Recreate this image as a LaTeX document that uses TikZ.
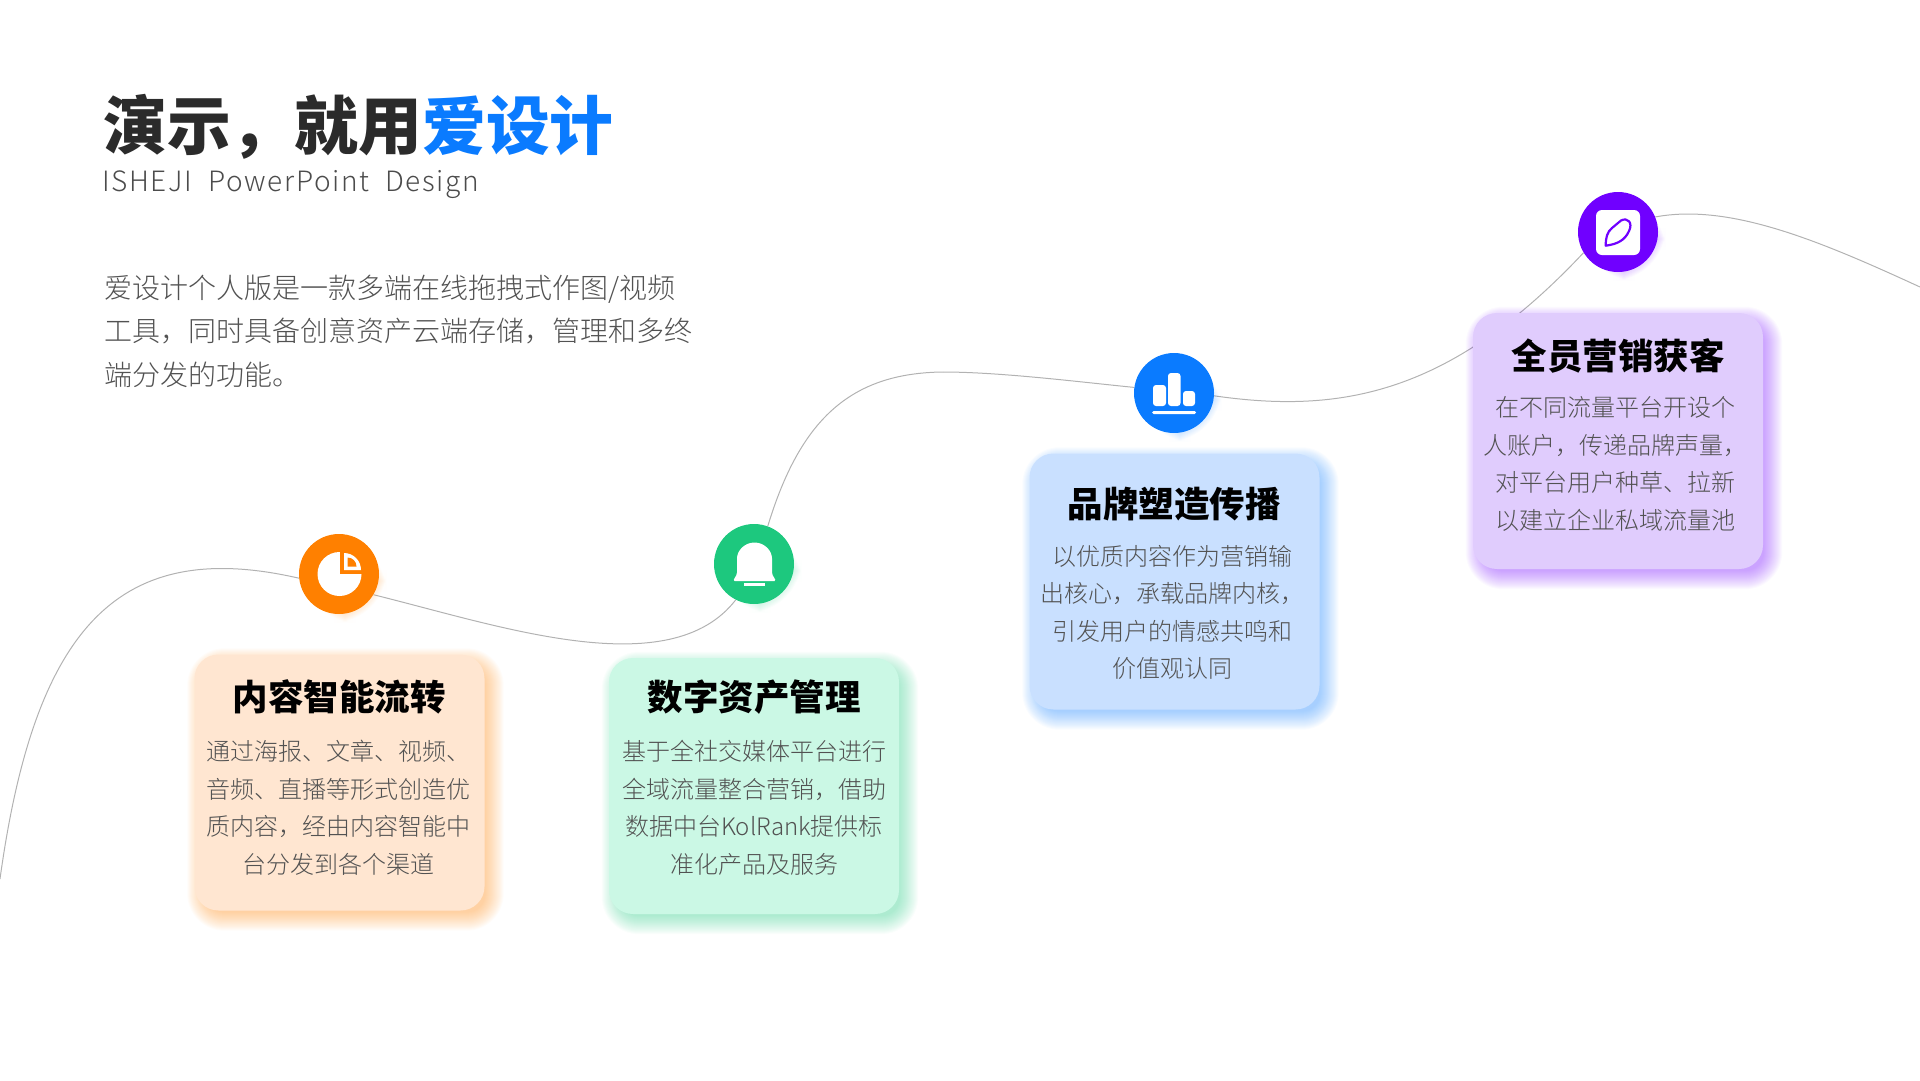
\documentclass[tikz,border=0pt]{standalone}
\usepackage{fontspec}
\usetikzlibrary{calc,backgrounds}
\newfontfamily\heavyfont{Noto Sans CJK SC Black}
\newfontfamily\lightfont{Noto Sans CJK SC Light}
\newfontfamily\subfont[LetterSpace=6,WordSpace=2]{Noto Sans CJK SC Light}
\definecolor{orangedark}{HTML}{FF8000}
\definecolor{orangecard}{HTML}{FFE6D1}
\definecolor{greendark}{HTML}{1DC87E}
\definecolor{greencard}{HTML}{CBF8E5}
\definecolor{bluedark}{HTML}{0A7BFF}
\definecolor{bluecard}{HTML}{C9E0FF}
\definecolor{purpledark}{HTML}{7000FF}
\definecolor{purplecard}{HTML}{E0CCFD}
\tikzset{
  cardbox/.style={rounded corners=24pt,minimum width=290pt,minimum height=256pt,inner sep=0pt},
  dotbox/.style={circle,minimum size=80pt,inner sep=0pt},
  cardtitle/.style={inner sep=0pt,font=\fontsize{35.5}{40}\selectfont\heavyfont,text=black},
  cardbody/.style={inner sep=0pt,align=center,text=black!68,font=\fontsize{24}{37.5}\selectfont\lightfont},
  curveline/.style={draw=black!30,line width=1pt}
}
% soft shadow behind a node: node, colour, corner radius
\newcommand{\softshadow}[3]{
  \foreach \d [evaluate=\d as \r using #3+\d] in {13,12,...,-5}
    \fill[#2,opacity=.024,rounded corners=\r pt] ($(#1.south west)+(6-\d,7+\d)$) rectangle ($(#1.north east)+(6+\d,7-\d)$);
}
\begin{document}
\begin{tikzpicture}[x=1pt,y=-1pt]
  \useasboundingbox (0,0) rectangle (1920,1080);
  % heading
  \node[anchor=west,inner sep=0pt,font=\fontsize{63.8}{70}\selectfont\heavyfont,text=black!83] (headline) at (103,126.5) {演示，就用\textcolor{bluedark}{爱设计}};
  \node[anchor=west,inner sep=0pt,font=\fontsize{28}{32}\selectfont\subfont,text=black!70] (subline) at (102,184.5) {ISHEJI PowerPoint Design};
  \node[anchor=north west,inner sep=0pt,align=left,text=black!68,font=\fontsize{28}{43.5}\selectfont\lightfont] (intro) at (104,274.5) {爱设计个人版是一款多端在线拖拽式作图/视频\\工具，同时具备创意资产云端存储，管理和多终\\端分发的功能。};
  % cards
  \node[cardbox,fill=orangecard] (orangebox) at (339.5,782.5) {};
  \node[cardbox,fill=greencard] (greenbox) at (754,786) {};
  \node[cardbox,fill=bluecard] (bluebox) at (1174.5,581.5) {};
  \node[cardbox,fill=purplecard] (purplebox) at (1618,441) {};
  \node[cardtitle] (orangetitle) at (339,697) {内容智能流转};
  \node[cardtitle] (greentitle) at (754,697) {数字资产管理};
  \node[cardtitle] (bluetitle) at (1174,504) {品牌塑造传播};
  \node[cardtitle] (purpletitle) at (1618,356) {全员营销获客};
  \node[cardbody] (orangetext) at (338.5,808) {通过海报、文章、视频、\\音频、直播等形式创造优\\质内容，经由内容智能中\\台分发到各个渠道};
  \node[cardbody] (greentext) at (754,808) {基于全社交媒体平台进行\\全域流量整合营销，借助\\数据中台KolRank提供标\\准化产品及服务};
  \node[cardbody] (bluetext) at (1172,612.5) {以优质内容作为营销输\\出核心，承载品牌内核，\\引发用户的情感共鸣和\\价值观认同};
  \node[cardbody] (purpletext) at (1615.5,464) {在不同流量平台开设个\\人账户，传递品牌声量，\\对平台用户种草、拉新\\以建立企业私域流量池};
  % round badges
  \node[dotbox,fill=orangedark] (orangedot) at (339,574) {};
  \node[dotbox,fill=greendark] (greendot) at (754,564) {};
  \node[dotbox,fill=bluedark] (bluedot) at (1174,393) {};
  \node[dotbox,fill=purpledark] (purpledot) at (1618,232) {};
  % the wave and the shadows go behind everything
  \coordinate (wavestart) at (0,879);
  \coordinate (wavecrest) at (943,372);
  \coordinate (waveend) at (1920,287);
  \begin{scope}[on background layer]
    \draw[curveline] (wavestart) .. controls (35,625) and (120,537) .. (orangedot.186);
    \draw[curveline] (orangedot.-31) .. controls (500,626) and (670,685) .. (greendot.243);
    \draw[curveline] (greendot.70) .. controls (800,420) and (850,373) .. (wavecrest);
    \draw[curveline] (wavecrest) .. controls (1000,372) and (1080,382) .. (bluedot.172);
    \draw[curveline] (bluedot.-4) .. controls (1340,414) and (1450,395) .. (purpledot.211);
    \draw[curveline] (purpledot.22) .. controls (1730,203) and (1820,241) .. (waveend);
    \softshadow{orangebox}{orangedark}{24}
    \softshadow{greenbox}{greendark}{24}
    \softshadow{bluebox}{bluedark}{24}
    \softshadow{purplebox}{purpledark}{24}
    \softshadow{orangedot}{orangedark}{40}
    \softshadow{greendot}{greendark}{40}
    \softshadow{bluedot}{bluedark}{40}
    \softshadow{purpledot}{purpledark}{40}
  \end{scope}
  % pie icon
  \fill[white] (339.5,574) circle (22);
  \fill[orangedark] (339.5,574) -- (339.5,549) -- (364,549) -- (364,574) -- cycle;
  \fill[white] (344,570) -- (344,553) arc (-90:0:17) -- cycle;
  \fill[orangedark] (347.5,566.5) -- (347.5,557.5) arc (-90:0:9) -- cycle;
  % bell icon
  \fill[white,rounded corners=1.5pt] (733,581) -- (737,574) -- (737,560) arc (180:360:17.5) -- (772,574) -- (776,581) -- cycle;
  \fill[white] (744,583) rectangle (765,586);
  % bars icon
  \fill[white,rounded corners=3pt] (1153,385) rectangle (1166,406);
  \fill[white,rounded corners=3pt] (1168,373) rectangle (1180.5,406);
  \fill[white,rounded corners=3pt] (1183,391) rectangle (1195,406);
  \fill[white,rounded corners=1.5pt] (1152,411) rectangle (1196,414);
  % leaf icon
  \fill[white,rounded corners=6pt] (1596,210) rectangle (1640,255);
  \draw[purpledark,line width=2.2pt,line join=round] (1605.7,245.7) .. controls (1605.7,238) and (1607,232) .. (1612,228) -- (1621,220.5) .. controls (1628,217) and (1633,223) .. (1629,231) .. controls (1625,240) and (1618,244) .. (1605.7,245.7) -- cycle;
\end{tikzpicture}
\end{document}
